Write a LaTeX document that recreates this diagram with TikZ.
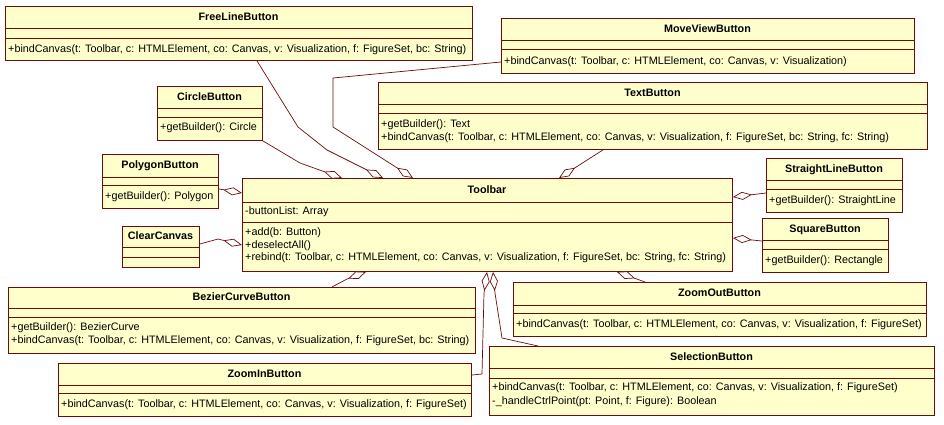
\documentclass[tikz,border=0pt]{standalone}
\usepackage{fontspec}
\setmainfont{Liberation Sans}
\usetikzlibrary{arrows.meta,calc}
\definecolor{boxfill}{RGB}{255,255,204}
\definecolor{edgecol}{RGB}{110,12,12}
\tikzset{
  clsbox/.style={draw=edgecol, fill=boxfill, line width=0.9pt, inner sep=0pt, rectangle},
  clsline/.style={draw=edgecol, line width=0.9pt},
  clstitle/.style={inner sep=0pt, font=\fontsize{10.8}{13}\selectfont\bfseries, text height=8.3pt, text depth=2.2pt},
  clstext/.style={inner sep=0pt, anchor=west, font=\fontsize{10.8}{13}\selectfont, text height=8.3pt, text depth=2.2pt},
  aggr/.style={draw=edgecol, line width=0.7pt, -{Diamond[fill=white, length=19pt, width=8pt, line width=0.7pt]}},
}
\newcommand\umlclass[8]{%
  \node[clsbox, minimum width={(#4-#2)*1pt}, minimum height={(#5-#3)*1pt}, anchor=north west] (#1) at (#2,#3) {};
  \draw[clsline] (#2,#6) -- (#4,#6);
  \draw[clsline] (#2,#7) -- (#4,#7);
  \node[clstitle] (#1-title) at ({(#2+#4)/2},{(#3+#6)/2}) {#8};
}
\newcommand\umlline[4]{\node[clstext] (#1) at (#2,#3) {#4};}
\begin{document}
\begin{tikzpicture}[x=1pt,y=-1pt]
\fill[white] (0,0) rectangle (944,424);
\useasboundingbox (0,0) rectangle (944,424);

\umlclass{freeline}{5}{6}{472}{60}{28}{38}{FreeLineButton}
\umlline{freeline-m1}{8}{49}{+bindCanvas(t: Toolbar, c: HTMLElement, co: Canvas, v: Visualization, f: FigureSet, bc: String)}

\umlclass{moveview}{501}{18}{914}{73}{40}{49}{MoveViewButton}
\umlline{moveview-m1}{504}{61}{+bindCanvas(t: Toolbar, c: HTMLElement, co: Canvas, v: Visualization)}

\umlclass{circle}{157}{86}{262}{140}{108}{117}{CircleButton}
\umlline{circle-m1}{160}{127.5}{+getBuilder(): Circle}

\umlclass{textb}{378}{82}{927}{149}{104}{113}{TextButton}
\umlline{textb-m1}{381}{124}{+getBuilder(): Text}
\umlline{textb-m2}{381}{137}{+bindCanvas(t: Toolbar, c: HTMLElement, co: Canvas, v: Visualization, f: FigureSet, bc: String, fc: String)}

\umlclass{polygon}{102}{154}{218}{208}{177}{185}{PolygonButton}
\umlline{polygon-m1}{105}{196.5}{+getBuilder(): Polygon}

\umlclass{tb}{242}{178}{732}{271}{202}{222}{Toolbar}
\umlline{tb-a1}{245}{211.5}{-buttonList: Array}
\umlline{tb-m1}{245}{232.5}{+add(b: Button)}
\umlline{tb-m2}{245}{245}{+deselectAll()}
\umlline{tb-m3}{245}{257.5}{+rebind(t: Toolbar, c: HTMLElement, co: Canvas, v: Visualization, f: FigureSet, bc: String, fc: String)}

\umlclass{clear}{122}{226}{199}{267}{247}{257}{ClearCanvas}

\umlclass{straight}{766}{158}{902}{212}{180}{189}{StraightLineButton}
\umlline{straight-m1}{769}{200.5}{+getBuilder(): StraightLine}

\umlclass{square}{762}{218}{888}{272}{240}{249}{SquareButton}
\umlline{square-m1}{765}{260.5}{+getBuilder(): Rectangle}

\umlclass{bezier}{8}{287}{475}{353}{308}{317}{BezierCurveButton}
\umlline{bezier-m1}{11}{327}{+getBuilder(): BezierCurve}
\umlline{bezier-m2}{11}{340}{+bindCanvas(t: Toolbar, c: HTMLElement, co: Canvas, v: Visualization, f: FigureSet, bc: String)}

\umlclass{zoomout}{513}{282}{926}{336}{305}{313}{ZoomOutButton}
\umlline{zoomout-m1}{516}{324.5}{+bindCanvas(t: Toolbar, c: HTMLElement, co: Canvas, v: Visualization, f: FigureSet)}

\umlclass{zoomin}{58}{363}{471}{416}{385}{393}{ZoomInButton}
\umlline{zoomin-m1}{61}{404.5}{+bindCanvas(t: Toolbar, c: HTMLElement, co: Canvas, v: Visualization, f: FigureSet)}

\umlclass{selection}{489}{346}{934}{415}{368}{378}{SelectionButton}
\umlline{selection-m1}{492}{387}{+bindCanvas(t: Toolbar, c: HTMLElement, co: Canvas, v: Visualization, f: FigureSet)}
\umlline{selection-m2}{492}{401}{-\_handleCtrlPoint(pt: Point, f: Figure): Boolean}

% aggregations
\draw[aggr] (circle.south east) -- (300,163) -- ($(tb.north west)+(100,0)$);
\draw[aggr] ($(freeline.south west)+(252,0)$) -- (298,127) -- (327,150) -- ($(tb.north west)+(141,0)$);
\draw[aggr] ($(moveview.north west)+(0,44)$) -- (333,78) -- (333,127) -- ($(tb.north west)+(171,0)$);
\draw[aggr] ($(textb.south west)+(225,0)$) -- ($(tb.north west)+(317,0)$);
\draw[aggr] ($(polygon.north east)+(0,35)$) -- ($(tb.north west)+(0,15)$);
\draw[aggr] ($(clear.north east)+(0,18)$) -- (218,239) -- ($(tb.north west)+(0,67)$);
\draw[aggr] ($(straight.north west)+(0,35)$) -- ($(tb.north east)+(0,19)$);
\draw[aggr] ($(square.north west)+(0,23)$) -- ($(tb.north east)+(0,60)$);
\draw[aggr] ($(bezier.north west)+(324,0)$) -- (347,279) -- ($(tb.south west)+(124,0)$);
\draw[aggr] ($(zoomout.north west)+(132,0)$) -- ($(tb.south west)+(375,0)$);
\draw[aggr] ($(zoomin.north east)+(0,12)$) -- (482,374) -- (484,293) -- ($(tb.south west)+(245,0)$);
\draw[aggr] ($(selection.north west)+(49,0)$) -- (502,338) -- (495,293) -- ($(tb.south west)+(251,0)$);
\end{tikzpicture}
\end{document}
